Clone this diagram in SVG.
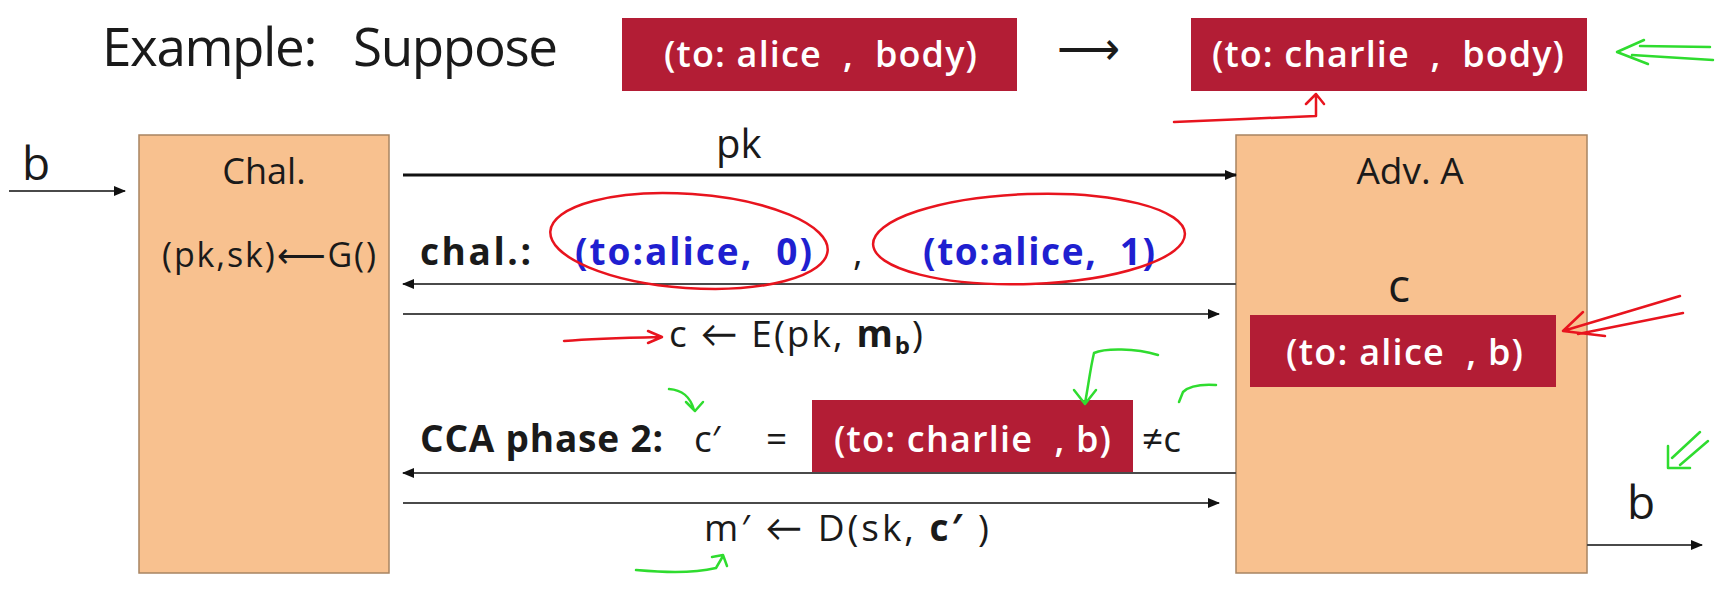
<svg xmlns="http://www.w3.org/2000/svg" width="1733" height="593" viewBox="0 0 1733 593">
<defs>
<style>
.t{font-family:"Open Sans","Noto Sans",Lato,sans-serif;fill:#1a1a1a}
.w{font-family:"Open Sans","Noto Sans",Lato,sans-serif;fill:#fff;font-weight:600}
.bl{font-family:"Open Sans","Noto Sans",Lato,sans-serif;fill:#1f1fd0;font-weight:bold}
.box{fill:#f8c18f;stroke:#a88462;stroke-width:1.5}
.red{fill:#b31d35}
.ln{stroke:#4a4a4a;stroke-width:2;fill:none}
.ann-r{stroke:#e8141e;stroke-width:2.5;fill:none;stroke-linecap:round;stroke-linejoin:round}
.ann-g{stroke:#2fdc2f;stroke-width:2.5;fill:none;stroke-linecap:round;stroke-linejoin:round}
</style>
<marker id="ah" markerWidth="12" markerHeight="10" refX="11" refY="5" orient="auto" markerUnits="userSpaceOnUse">
<path d="M0,0 L12,5 L0,10 z" fill="#111"/>
</marker>
</defs>
<rect width="1733" height="593" fill="#fff"/>

<g id="title">
<text class="t" x="102" y="66" font-size="53" textLength="456" xml:space="preserve">Example:   Suppose</text>
</g>
<g id="msg-alice">
<rect class="red" x="622" y="18" width="395" height="73"/>
<text class="w" x="664" y="67" font-size="36" textLength="313" xml:space="preserve">(to: alice  ,  body)</text>
</g>
<g id="maps-to">
<text class="t" x="1088" y="64" font-size="44" text-anchor="middle">⟶</text>
</g>
<g id="msg-charlie">
<rect class="red" x="1191" y="18" width="396" height="73"/>
<text class="w" x="1212" y="67" font-size="36" textLength="352" xml:space="preserve">(to: charlie  ,  body)</text>
</g>

<g id="chal">
<rect class="box" x="139" y="135" width="250" height="438"/>
<text class="t" x="264" y="184" font-size="36" text-anchor="middle">Chal.</text>
<text class="t" x="162" y="267" font-size="34" textLength="214">(pk,sk)⟵G()</text>
</g>

<g id="adv">
<rect class="box" x="1236" y="135" width="351" height="438"/>
<text class="t" x="1410" y="184" font-size="37" text-anchor="middle">Adv. A</text>
<text class="t" x="1399" y="302" font-size="46" text-anchor="middle">c</text>
<rect class="red" x="1250" y="315" width="306" height="72"/>
<text class="w" x="1286" y="365" font-size="36" textLength="237" xml:space="preserve">(to: alice  , b)</text>
</g>

<g id="b-in">
<text class="t" x="22" y="180" font-size="46">b</text>
</g>
<g id="b-out">
<text class="t" x="1627" y="519" font-size="46">b</text>
</g>

<g id="labels">
<text class="t" x="716" y="158" font-size="40">pk</text>
<text class="t" x="420" y="265" font-size="37" font-weight="bold" textLength="111">chal.:</text>
<text class="bl" x="575" y="265" font-size="37" textLength="237" xml:space="preserve">(to:alice,  0)</text>
<text class="t" x="853" y="265" font-size="37">,</text>
<text class="bl" x="923" y="265" font-size="37" textLength="232" xml:space="preserve">(to:alice,  1)</text>
<text class="t" x="669" y="347" font-size="37" textLength="254">c ← E(pk, <tspan font-weight="bold">m</tspan><tspan font-weight="bold" font-size="24" dy="7">b</tspan><tspan dy="-7">)</tspan></text>
<text class="t" x="420" y="452" font-size="37" font-weight="bold" textLength="243">CCA phase 2:</text>
<text class="t" x="694" y="452" font-size="37">c′</text>
<text class="t" x="766" y="452" font-size="37">=</text>
<text class="t" x="1142" y="452" font-size="37">≠c</text>
<text class="t" x="704" y="541" font-size="37" textLength="285" xml:space="preserve">m′ ← D(sk, <tspan font-weight="bold">c′</tspan> )</text>
</g>

<g id="msg-charlie-b">
<rect class="red" x="812" y="400" width="321" height="72"/>
<text class="w" x="834" y="452" font-size="36" textLength="277" xml:space="preserve">(to: charlie  , b)</text>
</g>

<g id="connectors">
<line x1="9" y1="191" x2="125" y2="191" class="ln" stroke-width="1.5" marker-end="url(#ah)"/>
<line x1="403" y1="175" x2="1236" y2="175" stroke="#111" stroke-width="3" marker-end="url(#ah)"/>
<line x1="1236" y1="284" x2="403" y2="284" class="ln" marker-end="url(#ah)"/>
<line x1="403" y1="314" x2="1219" y2="314" class="ln" marker-end="url(#ah)"/>
<line x1="1236" y1="473" x2="403" y2="473" class="ln" marker-end="url(#ah)"/>
<line x1="403" y1="503" x2="1219" y2="503" class="ln" marker-end="url(#ah)"/>
<line x1="1587" y1="545" x2="1702" y2="545" class="ln" stroke-width="1.5" marker-end="url(#ah)"/>
</g>

<g id="annotations">
<ellipse class="ann-r" cx="689" cy="241" rx="139" ry="47" transform="rotate(4 689 241)"/>
<ellipse class="ann-r" cx="1029" cy="239" rx="156" ry="45" transform="rotate(-2 1029 239)"/>
<path class="ann-r" d="M1174,122 C1220,120 1270,118 1316,116 L1316,96 M1306,104 L1316,94 L1324,104"/>
<path class="ann-r" d="M564,341 C590,339 620,338 660,337 M648,331 L662,337 L648,343" stroke-width="3.5"/>
<path class="ann-r" d="M1680,296 L1563,331 M1683,313 L1578,334 M1563,331 L1583,312 M1563,331 L1605,336"/>
<path class="ann-g" d="M1713,60 L1632,55 M1710,47 L1640,46 M1644,40 L1617,52 L1648,64"/>
<path class="ann-g" d="M669,389 C682,390 690,396 694,410 M686,402 L695,411 L703,402"/>
<path class="ann-g" d="M1158,355 C1135,348 1105,348 1094,353 C1090,370 1088,388 1085,403 M1074,390 L1085,404 L1096,390"/>
<path class="ann-g" d="M1216,385 C1200,384 1188,387 1183,392 L1179,402"/>
<path class="ann-g" d="M636,570 C660,572 690,574 716,568 L723,556 M712,557 L723,555 L727,566"/>
<path class="ann-g" d="M1700,432 L1672,458 M1708,441 L1680,465 M1668,446 L1668,468 L1690,468"/>
</g>
</svg>
